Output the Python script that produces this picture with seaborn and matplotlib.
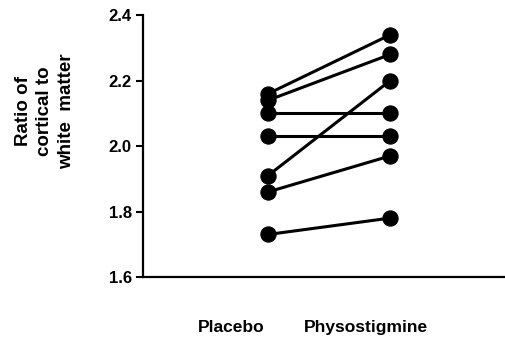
import numpy as np
import matplotlib
matplotlib.use("Agg")
import matplotlib.pyplot as plt
import matplotlib.transforms as mtransforms
import pandas as pd
import seaborn as sns

conditions = ["Placebo", "Physostigmine"]
placebo = [2.16, 2.14, 2.10, 2.03, 1.91, 1.86, 1.73]
physostigmine = [2.34, 2.28, 2.10, 2.03, 2.20, 1.97, 1.78]
y_ticks = [1.6, 1.8, 2.0, 2.2, 2.4]

subjects = np.arange(len(placebo))
df = pd.DataFrame({
    "subject": np.concatenate([subjects, subjects]),
    "condition": [conditions[0]] * len(placebo) + [conditions[1]] * len(physostigmine),
    "ratio": placebo + physostigmine,
})

sns.set_style("ticks")
plt.rcParams["font.family"] = ["Liberation Sans", "DejaVu Sans"]
plt.rcParams["font.weight"] = "bold"
for key in ["text.color", "axes.labelcolor", "xtick.color", "ytick.color"]:
    plt.rcParams[key] = "black"

fig = plt.figure(figsize=(5.05, 3.37), dpi=100)
ax = fig.add_axes([0.283, 0.178, 0.717, 0.777])

sns.lineplot(data=df, x="condition", y="ratio", units="subject", estimator=None,
             color="black", linewidth=2.2, marker="o", markersize=11,
             markeredgecolor="black", ax=ax)

ax.set_ylim(1.6, 2.4)
ax.set_xlim(-1.025, 1.94)
ax.set_yticks(y_ticks)
ax.set_yticklabels([f"{v:.1f}" for v in y_ticks], fontsize=12, fontweight="bold")

ax.set_xticks([0, 1])
ax.set_xticklabels(conditions, fontsize=12.5, fontweight="bold")
ax.tick_params(axis="x", length=0, pad=31)
ax.tick_params(axis="y", length=5, width=1.5, direction="out", pad=3)
# labels in the original sit a little left of their columns
for lab, dx in zip(ax.get_xticklabels(), [-0.37, -0.24]):
    offset = mtransforms.ScaledTranslation(dx, 0, fig.dpi_scale_trans)
    lab.set_transform(lab.get_transform() + offset)

ax.set_xlabel("")
ax.set_ylabel("Ratio of\ncortical to\nwhite  matter", fontsize=13.5,
              fontweight="bold", linespacing=1.35)
ax.yaxis.set_label_coords(-0.188, 0.634)

sns.despine(ax=ax)
for s in ["left", "bottom"]:
    ax.spines[s].set_linewidth(1.6)
    ax.spines[s].set_color("black")

fig.savefig("out.png", dpi=100)
